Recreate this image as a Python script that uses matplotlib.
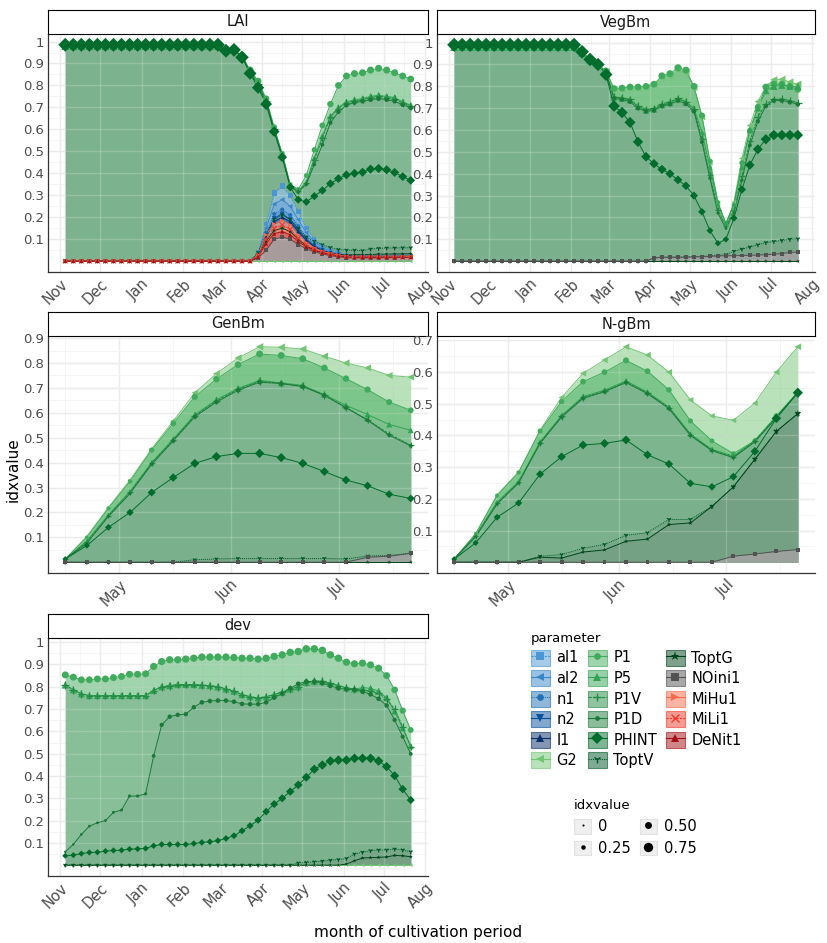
import matplotlib
matplotlib.use("Agg")
import matplotlib.dates as mdates
import matplotlib.pyplot as plt
import numpy as np
import pandas as pd
from matplotlib.colors import to_rgba
from matplotlib.lines import Line2D
from matplotlib.patches import Patch
from matplotlib.ticker import FuncFormatter


# ========= sampling dates (every 6 days) =========
DATES_FULL = pd.date_range("2018-11-05", "2019-07-21", freq="6D")   # 44 dates
DATES_GRAIN = pd.date_range("2019-04-16", "2019-07-21", freq="6D")  # 17 dates

PARAMS = ["al1", "al2", "n1", "n2", "l1", "G2", "P1", "P5", "P1V", "P1D",
          "PHINT", "ToptV", "ToptG", "NOini1", "MiHu1", "MiLi1", "DeNit1"]

# ========= LAI =========
LAI_PHINT = [0.985, 0.985, 0.985, 0.985, 0.985, 0.985, 0.985, 0.985, 0.985, 0.985,
             0.985, 0.985, 0.985, 0.985, 0.985, 0.985, 0.985, 0.985, 0.985, 0.985,
             0.958, 0.962, 0.928, 0.855, 0.790, 0.715, 0.590, 0.473, 0.337, 0.280,
             0.270, 0.296, 0.322, 0.353, 0.376, 0.393, 0.400, 0.405, 0.419, 0.422,
             0.416, 0.404, 0.385, 0.368]
LAI_P1 = [0.98, 0.98, 0.98, 0.98, 0.98, 0.98, 0.98, 0.98, 0.98, 0.98,
          0.98, 0.98, 0.98, 0.98, 0.98, 0.98, 0.98, 0.98, 0.98, 0.98,
          0.962, 0.966, 0.935, 0.870, 0.820, 0.740, 0.610, 0.490, 0.350, 0.327,
          0.390, 0.507, 0.618, 0.715, 0.800, 0.843, 0.854, 0.858, 0.870, 0.878,
          0.870, 0.858, 0.843, 0.829]
LAI_P5 = [0.98, 0.98, 0.98, 0.98, 0.98, 0.98, 0.98, 0.98, 0.98, 0.98,
          0.98, 0.98, 0.98, 0.98, 0.98, 0.98, 0.98, 0.98, 0.98, 0.98,
          0.958, 0.962, 0.931, 0.865, 0.810, 0.735, 0.600, 0.485, 0.345, 0.320,
          0.360, 0.470, 0.570, 0.660, 0.700, 0.725, 0.735, 0.740, 0.750, 0.755,
          0.750, 0.745, 0.725, 0.710]
LAI_P1V = [0.98, 0.98, 0.98, 0.98, 0.98, 0.98, 0.98, 0.98, 0.98, 0.98,
           0.98, 0.98, 0.98, 0.98, 0.98, 0.98, 0.98, 0.98, 0.98, 0.98,
           0.957, 0.961, 0.930, 0.862, 0.805, 0.730, 0.600, 0.482, 0.342, 0.318,
           0.355, 0.460, 0.560, 0.655, 0.695, 0.720, 0.730, 0.735, 0.745, 0.750,
           0.745, 0.740, 0.720, 0.705]
LAI_P1D = [0.98, 0.98, 0.98, 0.98, 0.98, 0.98, 0.98, 0.98, 0.98, 0.98,
           0.98, 0.98, 0.98, 0.98, 0.98, 0.98, 0.98, 0.98, 0.98, 0.98,
           0.956, 0.960, 0.929, 0.860, 0.800, 0.725, 0.595, 0.480, 0.340, 0.315,
           0.350, 0.440, 0.530, 0.630, 0.680, 0.710, 0.722, 0.728, 0.735, 0.740,
           0.735, 0.728, 0.712, 0.698]
LAI_G2 = [0, 0, 0, 0, 0, 0, 0, 0, 0, 0, 0, 0, 0, 0, 0, 0, 0, 0, 0, 0, 0, 0,
          0, 0, 0, 0, 0, 0, 0, 0, 0, 0, 0, 0, 0, 0, 0, 0, 0, 0, 0, 0, 0, 0]
LAI_ToptV = [0, 0, 0, 0, 0, 0, 0, 0, 0, 0, 0, 0, 0, 0, 0, 0, 0, 0, 0, 0, 0, 0, 0, 0,
             0.040, 0.120, 0.190, 0.210, 0.190, 0.150, 0.110, 0.090, 0.075, 0.062,
             0.053, 0.050, 0.050, 0.048, 0.055, 0.058, 0.060, 0.060, 0.061, 0.061]
LAI_ToptG = [0, 0, 0, 0, 0, 0, 0, 0, 0, 0, 0, 0, 0, 0, 0, 0, 0, 0, 0, 0, 0, 0, 0, 0,
             0.030, 0.090, 0.140, 0.150, 0.135, 0.100, 0.070, 0.050, 0.040, 0.035,
             0.030, 0.028, 0.030, 0.030, 0.030, 0.032, 0.032, 0.033, 0.033, 0.034]
LAI_NOini1 = [0, 0, 0, 0, 0, 0, 0, 0, 0, 0, 0, 0, 0, 0, 0, 0, 0, 0, 0, 0, 0, 0, 0, 0,
              0.015, 0.050, 0.100, 0.110, 0.100, 0.076, 0.056, 0.043, 0.033, 0.025,
              0.020, 0.016, 0.015, 0.015, 0.015, 0.015, 0.016, 0.016, 0.017, 0.018]
LAI_MiHu1 = [0, 0, 0, 0, 0, 0, 0, 0, 0, 0, 0, 0, 0, 0, 0, 0, 0, 0, 0, 0, 0, 0, 0, 0,
             0.030, 0.120, 0.170, 0.185, 0.165, 0.120, 0.085, 0.060, 0.045, 0.035,
             0.028, 0.022, 0.020, 0.020, 0.020, 0.020, 0.020, 0.020, 0.020, 0.022]
LAI_MiLi1 = [0, 0, 0, 0, 0, 0, 0, 0, 0, 0, 0, 0, 0, 0, 0, 0, 0, 0, 0, 0, 0, 0, 0, 0,
             0.025, 0.100, 0.150, 0.165, 0.145, 0.105, 0.075, 0.055, 0.040, 0.032,
             0.025, 0.020, 0.018, 0.018, 0.018, 0.018, 0.018, 0.018, 0.018, 0.018]
LAI_DeNit1 = [0, 0, 0, 0, 0, 0, 0, 0, 0, 0, 0, 0, 0, 0, 0, 0, 0, 0, 0, 0, 0, 0, 0, 0,
              0.020, 0.080, 0.125, 0.135, 0.120, 0.090, 0.065, 0.050, 0.038, 0.030,
              0.024, 0.020, 0.018, 0.018, 0.018, 0.018, 0.018, 0.018, 0.018, 0.018]
LAI_al1 = [0, 0, 0, 0, 0, 0, 0, 0, 0, 0, 0, 0, 0, 0, 0, 0, 0, 0, 0, 0, 0, 0, 0, 0,
           0.040, 0.170, 0.310, 0.342, 0.300, 0.225, 0.150, 0.100, 0.070, 0.050,
           0.040, 0.030, 0.025, 0.022, 0.022, 0.022, 0.022, 0.022, 0.022, 0.022]
LAI_al2 = [0, 0, 0, 0, 0, 0, 0, 0, 0, 0, 0, 0, 0, 0, 0, 0, 0, 0, 0, 0, 0, 0, 0, 0,
           0.035, 0.150, 0.260, 0.280, 0.250, 0.190, 0.130, 0.090, 0.062, 0.045,
           0.035, 0.028, 0.022, 0.022, 0.022, 0.022, 0.022, 0.022, 0.022, 0.022]
LAI_n1 = [0, 0, 0, 0, 0, 0, 0, 0, 0, 0, 0, 0, 0, 0, 0, 0, 0, 0, 0, 0, 0, 0, 0, 0,
          0.030, 0.130, 0.215, 0.235, 0.210, 0.160, 0.110, 0.078, 0.055, 0.040,
          0.032, 0.026, 0.022, 0.022, 0.022, 0.022, 0.022, 0.022, 0.022, 0.022]
LAI_n2 = [0, 0, 0, 0, 0, 0, 0, 0, 0, 0, 0, 0, 0, 0, 0, 0, 0, 0, 0, 0, 0, 0, 0, 0,
          0.030, 0.120, 0.195, 0.215, 0.190, 0.145, 0.100, 0.070, 0.050, 0.038,
          0.030, 0.025, 0.022, 0.022, 0.022, 0.022, 0.022, 0.022, 0.022, 0.022]
LAI_l1 = [0, 0, 0, 0, 0, 0, 0, 0, 0, 0, 0, 0, 0, 0, 0, 0, 0, 0, 0, 0, 0, 0, 0, 0,
          0.028, 0.110, 0.180, 0.200, 0.180, 0.135, 0.095, 0.066, 0.048, 0.036,
          0.029, 0.024, 0.022, 0.022, 0.022, 0.022, 0.022, 0.022, 0.022, 0.022]

# ========= VegBm =========
VEG_PHINT = [0.99, 0.99, 0.99, 0.99, 0.99, 0.99, 0.99, 0.99, 0.99, 0.99, 0.99, 0.99,
             0.99, 0.99, 0.99, 0.99,
             0.958, 0.923, 0.900, 0.854, 0.710, 0.680, 0.635, 0.546, 0.478, 0.446,
             0.420, 0.400, 0.372, 0.345, 0.300, 0.226, 0.140, 0.082, 0.100, 0.197,
             0.328, 0.440, 0.512, 0.558, 0.577, 0.577, 0.577, 0.577]
VEG_P1 = [0.985, 0.985, 0.985, 0.985, 0.985, 0.985, 0.985, 0.985, 0.985, 0.985,
          0.985, 0.985, 0.985, 0.985, 0.985, 0.985,
          0.955, 0.920, 0.900, 0.870, 0.790, 0.792, 0.797, 0.797, 0.800, 0.810,
          0.848, 0.858, 0.885, 0.874, 0.800, 0.666, 0.458, 0.270, 0.170, 0.258,
          0.450, 0.597, 0.705, 0.797, 0.810, 0.810, 0.800, 0.786]
VEG_G2 = [0.98, 0.98, 0.98, 0.98, 0.98, 0.98, 0.98, 0.98, 0.98, 0.98, 0.98, 0.98,
          0.98, 0.98, 0.98, 0.98,
          0.950, 0.915, 0.895, 0.865, 0.785, 0.785, 0.790, 0.790, 0.795, 0.805,
          0.840, 0.850, 0.875, 0.865, 0.795, 0.660, 0.450, 0.265, 0.160, 0.270,
          0.470, 0.620, 0.730, 0.800, 0.830, 0.832, 0.820, 0.810]
VEG_P5 = [0.98, 0.98, 0.98, 0.98, 0.98, 0.98, 0.98, 0.98, 0.98, 0.98, 0.98, 0.98,
          0.98, 0.98, 0.98, 0.98,
          0.953, 0.918, 0.898, 0.863, 0.750, 0.745, 0.738, 0.708, 0.690, 0.695,
          0.715, 0.725, 0.742, 0.728, 0.700, 0.590, 0.430, 0.260, 0.175, 0.260,
          0.430, 0.600, 0.700, 0.780, 0.800, 0.805, 0.800, 0.800]
VEG_P1V = [0.98, 0.98, 0.98, 0.98, 0.98, 0.98, 0.98, 0.98, 0.98, 0.98, 0.98, 0.98,
           0.98, 0.98, 0.98, 0.98,
           0.952, 0.918, 0.898, 0.862, 0.752, 0.748, 0.740, 0.710, 0.695, 0.700,
           0.720, 0.730, 0.745, 0.730, 0.695, 0.560, 0.395, 0.235, 0.160, 0.235,
           0.390, 0.550, 0.660, 0.720, 0.740, 0.742, 0.735, 0.725]
VEG_P1D = [0.98, 0.98, 0.98, 0.98, 0.98, 0.98, 0.98, 0.98, 0.98, 0.98, 0.98, 0.98,
           0.98, 0.98, 0.98, 0.98,
           0.950, 0.915, 0.895, 0.860, 0.745, 0.740, 0.730, 0.700, 0.685, 0.690,
           0.710, 0.718, 0.735, 0.720, 0.685, 0.545, 0.380, 0.220, 0.150, 0.220,
           0.370, 0.530, 0.640, 0.710, 0.735, 0.735, 0.728, 0.718]
VEG_ToptV = [0, 0, 0, 0, 0, 0, 0, 0, 0, 0, 0, 0, 0, 0, 0, 0, 0, 0, 0, 0, 0, 0, 0, 0, 0,
             0.015, 0.018, 0.018, 0.018, 0.020, 0.020, 0.022, 0.024, 0.026, 0.030,
             0.045, 0.055, 0.065, 0.075, 0.085, 0.090, 0.095, 0.100, 0.102]
VEG_ToptG = [0, 0, 0, 0, 0, 0, 0, 0, 0, 0, 0, 0, 0, 0, 0, 0, 0, 0, 0, 0, 0, 0,
             0, 0, 0, 0, 0, 0, 0, 0, 0, 0, 0, 0, 0, 0, 0, 0, 0, 0, 0, 0, 0, 0]
VEG_NOini1 = [0, 0, 0, 0, 0, 0, 0, 0, 0, 0, 0, 0, 0, 0, 0, 0, 0, 0, 0, 0, 0, 0, 0, 0, 0,
              0.015, 0.018, 0.018, 0.018, 0.018, 0.020, 0.020, 0.022, 0.024, 0.025,
              0.025, 0.026, 0.027, 0.028, 0.030, 0.032, 0.035, 0.040, 0.042]

# ========= GenBm =========
GEN_G2 = [0.013, 0.104, 0.220, 0.330, 0.455, 0.567, 0.680, 0.757, 0.820, 0.865,
          0.863, 0.856, 0.827, 0.800, 0.780, 0.750, 0.743]
GEN_P1 = [0.013, 0.100, 0.216, 0.324, 0.450, 0.557, 0.664, 0.735, 0.793, 0.836,
          0.830, 0.817, 0.780, 0.737, 0.693, 0.643, 0.610]
GEN_P5 = [0.013, 0.085, 0.190, 0.285, 0.400, 0.495, 0.592, 0.652, 0.698, 0.730,
          0.720, 0.710, 0.673, 0.630, 0.593, 0.553, 0.530]
GEN_P1V = [0.013, 0.082, 0.187, 0.280, 0.397, 0.490, 0.588, 0.648, 0.694, 0.727,
           0.718, 0.707, 0.671, 0.622, 0.572, 0.515, 0.470]
GEN_P1D = [0.013, 0.076, 0.184, 0.276, 0.393, 0.487, 0.584, 0.643, 0.690, 0.723,
           0.717, 0.705, 0.670, 0.620, 0.570, 0.510, 0.467]
GEN_PHINT = [0.013, 0.067, 0.140, 0.200, 0.280, 0.340, 0.397, 0.424, 0.437, 0.437,
             0.420, 0.397, 0.364, 0.330, 0.307, 0.273, 0.256]
GEN_ToptV = [0, 0, 0, 0, 0, 0, 0.010, 0.013, 0.015, 0.015, 0.015, 0.015, 0.015,
             0.013, 0.025, 0.027, 0.036]
GEN_ToptG = [0, 0, 0, 0, 0, 0, 0, 0, 0, 0, 0, 0, 0, 0, 0, 0, 0]
GEN_NOini1 = [0, 0, 0, 0, 0, 0, 0, 0, 0, 0, 0, 0, 0, 0, 0.020, 0.024, 0.036]

# ========= N-gBm =========
NGB_G2 = [0.010, 0.090, 0.213, 0.285, 0.417, 0.520, 0.596, 0.638, 0.680, 0.654,
          0.600, 0.512, 0.462, 0.448, 0.502, 0.600, 0.680]
NGB_P1 = [0.010, 0.090, 0.210, 0.283, 0.414, 0.507, 0.570, 0.600, 0.637, 0.603,
          0.544, 0.446, 0.383, 0.343, 0.383, 0.462, 0.535]
NGB_P5 = [0.010, 0.085, 0.190, 0.255, 0.380, 0.463, 0.523, 0.543, 0.572, 0.537,
          0.490, 0.405, 0.356, 0.335, 0.385, 0.460, 0.537]
NGB_P1V = [0.010, 0.082, 0.186, 0.252, 0.377, 0.460, 0.520, 0.540, 0.569, 0.534,
           0.487, 0.402, 0.354, 0.332, 0.382, 0.458, 0.536]
NGB_P1D = [0.010, 0.080, 0.184, 0.250, 0.375, 0.458, 0.517, 0.538, 0.567, 0.532,
           0.485, 0.400, 0.352, 0.330, 0.380, 0.456, 0.535]
NGB_PHINT = [0.010, 0.061, 0.142, 0.187, 0.278, 0.333, 0.370, 0.375, 0.386, 0.339,
             0.310, 0.249, 0.238, 0.270, 0.350, 0.454, 0.535]
NGB_ToptV = [0, 0, 0, 0, 0.019, 0.024, 0.044, 0.056, 0.085, 0.093, 0.135, 0.135,
             0.176, 0.238, 0.325, 0.413, 0.469]
NGB_ToptG = [0, 0, 0, 0, 0.016, 0.013, 0.032, 0.039, 0.066, 0.073, 0.119, 0.124,
             0.176, 0.238, 0.325, 0.413, 0.469]
NGB_NOini1 = [0, 0, 0, 0, 0, 0, 0, 0, 0, 0, 0, 0, 0, 0.019, 0.026, 0.034, 0.040]

# ========= dev =========
DEV_P1 = [0.853, 0.843, 0.831, 0.831, 0.835, 0.835, 0.841, 0.846, 0.856, 0.856,
          0.858, 0.891, 0.913, 0.921, 0.921, 0.924, 0.928, 0.933, 0.933, 0.933,
          0.933, 0.931, 0.928, 0.928, 0.924, 0.928, 0.936, 0.943, 0.954, 0.958,
          0.970, 0.970, 0.963, 0.943, 0.928, 0.910, 0.903, 0.906, 0.898, 0.883,
          0.850, 0.786, 0.693, 0.606]
DEV_P1V = [0.808, 0.786, 0.768, 0.760, 0.760, 0.760, 0.760, 0.760, 0.760, 0.760,
           0.760, 0.783, 0.800, 0.805, 0.810, 0.810, 0.810, 0.807, 0.805, 0.800,
           0.790, 0.780, 0.765, 0.755, 0.750, 0.755, 0.765, 0.775, 0.790, 0.800,
           0.820, 0.825, 0.825, 0.815, 0.805, 0.795, 0.790, 0.785, 0.780, 0.770,
           0.745, 0.700, 0.620, 0.530]
DEV_P5 = [0.808, 0.786, 0.768, 0.760, 0.760, 0.760, 0.760, 0.760, 0.760, 0.760,
          0.760, 0.783, 0.800, 0.805, 0.810, 0.810, 0.810, 0.807, 0.805, 0.800,
          0.790, 0.780, 0.765, 0.755, 0.750, 0.755, 0.765, 0.775, 0.790, 0.800,
          0.820, 0.825, 0.825, 0.815, 0.805, 0.795, 0.790, 0.796, 0.793, 0.780,
          0.750, 0.690, 0.614, 0.534]
DEV_P1D = [0.060, 0.093, 0.138, 0.175, 0.190, 0.200, 0.237, 0.247, 0.310, 0.310,
           0.320, 0.490, 0.629, 0.666, 0.674, 0.677, 0.708, 0.730, 0.736, 0.738,
           0.738, 0.733, 0.723, 0.722, 0.722, 0.730, 0.751, 0.770, 0.793, 0.813,
           0.823, 0.823, 0.816, 0.804, 0.793, 0.789, 0.786, 0.778, 0.766, 0.746,
           0.716, 0.651, 0.576, 0.499]
DEV_PHINT = [0.042, 0.045, 0.052, 0.057, 0.058, 0.063, 0.066, 0.067, 0.072, 0.073,
             0.075, 0.087, 0.093, 0.093, 0.093, 0.093, 0.097, 0.102, 0.105, 0.110,
             0.120, 0.132, 0.154, 0.177, 0.202, 0.240, 0.274, 0.300, 0.330, 0.360,
             0.394, 0.430, 0.449, 0.467, 0.471, 0.471, 0.479, 0.479, 0.479, 0.467,
             0.442, 0.401, 0.341, 0.292]
DEV_G2 = [0, 0, 0, 0, 0, 0, 0, 0, 0, 0, 0, 0, 0, 0, 0, 0, 0, 0, 0, 0, 0, 0,
          0, 0, 0, 0, 0, 0, 0, 0, 0, 0, 0, 0, 0, 0, 0, 0, 0, 0, 0, 0, 0, 0]
DEV_ToptV = [0, 0, 0, 0, 0, 0, 0, 0, 0, 0, 0, 0, 0, 0, 0, 0, 0, 0, 0, 0, 0, 0, 0, 0,
             0, 0, 0, 0, 0, 0.010, 0.012, 0.015, 0.018, 0.022, 0.025, 0.030, 0.050,
             0.058, 0.065, 0.068, 0.068, 0.072, 0.068, 0.060]
DEV_ToptG = [0, 0, 0, 0, 0, 0, 0, 0, 0, 0, 0, 0, 0, 0, 0, 0, 0, 0, 0, 0, 0, 0, 0, 0,
             0, 0, 0, 0, 0, 0, 0, 0, 0, 0, 0, 0.005, 0.020, 0.032, 0.034, 0.035,
             0.037, 0.044, 0.042, 0.038]

# ========= styles =========
LINE = {
    "al1": "#4b97d3", "al2": "#3a87c8", "n1": "#2171b5", "n2": "#08519c", "l1": "#08306b",
    "G2": "#74c476", "P1": "#41ab5d", "P5": "#31a354", "P1V": "#238b45", "P1D": "#1b7a3a",
    "PHINT": "#006d2c", "ToptV": "#00582a", "ToptG": "#00441b", "NOini1": "#525252",
    "MiHu1": "#fb6a4a", "MiLi1": "#ef3b2c", "DeNit1": "#a50f15",
}
FILL = {
    "al1": "#94bfe8", "al2": "#74a9dc", "n1": "#5b95cd", "n2": "#4a84bf", "l1": "#3f72ad",
    "G2": "#74c476", "P1": "#41ab5d", "P5": "#84bc95", "P1V": "#80b893", "P1D": "#7bb18d",
    "PHINT": "#79ae8b", "ToptV": "#76a085", "ToptG": "#739a80", "NOini1": "#a2a2a2",
    "MiHu1": "#fca58e", "MiLi1": "#f7826f", "DeNit1": "#d85c5a",
}
FILL_ALPHA = {p: 0.5 for p in PARAMS}
for p in ["al1", "al2", "n1", "n2", "l1", "MiHu1", "MiLi1", "DeNit1"]:
    FILL_ALPHA[p] = 0.7
FILL_ALPHA["NOini1"] = 0.9

MARKER = {
    "al1": "s", "al2": "<", "n1": "o", "n2": "v", "l1": "^", "G2": "<", "P1": "o",
    "P5": "^", "P1V": "+", "P1D": "o", "PHINT": "D", "ToptV": "1", "ToptG": "*",
    "NOini1": "s", "MiHu1": ">", "MiLi1": "x", "DeNit1": "^",
}
# marker size (points) = a + b * idxvalue
MSIZE = {
    "al1": (2.8, 3.0), "al2": (2.6, 3.2), "n1": (2.2, 3.3), "n2": (2.6, 3.2),
    "l1": (2.6, 3.2), "G2": (2.6, 3.2), "P1": (2.2, 3.3), "P5": (2.6, 3.2),
    "P1V": (3.2, 3.0), "P1D": (1.6, 2.3), "PHINT": (2.9, 4.3), "ToptV": (3.2, 3.0),
    "ToptG": (3.0, 4.5), "NOini1": (2.8, 3.0), "MiHu1": (2.6, 3.2), "MiLi1": (3.2, 3.0),
    "DeNit1": (2.6, 3.2),
}
LSTYLE = {p: "-" for p in PARAMS}
LSTYLE.update({"al1": (0, (2, 1)), "n1": (0, (1, 1)), "P1V": (0, (3, 1)),
               "ToptV": (0, (1, 1)), "MiLi1": (0, (2, 1))})
LINE_MARKERS = ("+", "x", "1")

AREA_ORDER = ["G2", "P1", "P5", "P1V", "P1D", "PHINT", "ToptV", "ToptG",
              "al1", "al2", "n1", "n2", "l1", "MiHu1", "MiLi1", "DeNit1", "NOini1"]

PANELS = [
    ("LAI", DATES_FULL, (48, 34, 428, 272), {
        "al1": LAI_al1, "al2": LAI_al2, "n1": LAI_n1, "n2": LAI_n2, "l1": LAI_l1,
        "G2": LAI_G2, "P1": LAI_P1, "P5": LAI_P5, "P1V": LAI_P1V, "P1D": LAI_P1D,
        "PHINT": LAI_PHINT, "ToptV": LAI_ToptV, "ToptG": LAI_ToptG, "NOini1": LAI_NOini1,
        "MiHu1": LAI_MiHu1, "MiLi1": LAI_MiLi1, "DeNit1": LAI_DeNit1}),
    ("VegBm", DATES_FULL, (437, 34, 815, 272), {
        "G2": VEG_G2, "P1": VEG_P1, "P5": VEG_P5, "P1V": VEG_P1V, "P1D": VEG_P1D,
        "PHINT": VEG_PHINT, "ToptV": VEG_ToptV, "ToptG": VEG_ToptG, "NOini1": VEG_NOini1}),
    ("GenBm", DATES_GRAIN, (48, 336, 428, 573), {
        "G2": GEN_G2, "P1": GEN_P1, "P5": GEN_P5, "P1V": GEN_P1V, "P1D": GEN_P1D,
        "PHINT": GEN_PHINT, "ToptV": GEN_ToptV, "ToptG": GEN_ToptG, "NOini1": GEN_NOini1}),
    ("N-gBm", DATES_GRAIN, (437, 336, 815, 573), {
        "G2": NGB_G2, "P1": NGB_P1, "P5": NGB_P5, "P1V": NGB_P1V, "P1D": NGB_P1D,
        "PHINT": NGB_PHINT, "ToptV": NGB_ToptV, "ToptG": NGB_ToptG, "NOini1": NGB_NOini1}),
    ("dev", DATES_FULL, (48, 638, 428, 876), {
        "G2": DEV_G2, "P1": DEV_P1, "P5": DEV_P5, "P1V": DEV_P1V, "P1D": DEV_P1D,
        "PHINT": DEV_PHINT, "ToptV": DEV_ToptV, "ToptG": DEV_ToptG}),
]

FIG_W, FIG_H = 828, 943


def px_rect(left, top, right, bottom):
    return [left / FIG_W, 1 - bottom / FIG_H, (right - left) / FIG_W, (bottom - top) / FIG_H]


def draw_panel(ax, dates, series):
    x = mdates.date2num(dates)
    for p in AREA_ORDER:
        if p in series:
            ax.fill_between(x, 0, series[p], color=FILL[p], alpha=FILL_ALPHA[p],
                            lw=0, zorder=1)
    for p in PARAMS:
        if p in series:
            ax.plot(x, series[p], color=LINE[p], lw=0.7, ls=LSTYLE[p], zorder=3)
    for p in PARAMS:
        if p not in series:
            continue
        v = np.asarray(series[p], dtype=float)
        a, b = MSIZE[p]
        s = (a + b * v) ** 2
        if MARKER[p] in LINE_MARKERS:
            ax.scatter(x, v, s=s, marker=MARKER[p], color=LINE[p], linewidths=0.9, zorder=4)
        else:
            ax.scatter(x, v, s=s, marker=MARKER[p], color=LINE[p], edgecolors="none", zorder=4)

    ymax = max(max(v) for v in series.values())
    ax.set_ylim(-0.05 * ymax, 1.05 * ymax)
    span = x[-1] - x[0]
    ax.set_xlim(x[0] - 0.05 * span, x[-1] + 0.05 * span)

    yt = [t for t in np.round(np.arange(1, 11) * 0.1, 1) if t <= 1.05 * ymax]
    ym = [t for t in np.round(np.arange(0, 11) * 0.1 + 0.05, 2) if t <= 1.05 * ymax]
    ax.set_yticks(yt)
    ax.set_yticks(ym, minor=True)
    ax.yaxis.set_major_formatter(FuncFormatter(lambda v, _: f"{v:g}"))
    ax.xaxis.set_major_locator(mdates.MonthLocator())
    ax.xaxis.set_major_formatter(mdates.DateFormatter("%b"))
    ax.xaxis.set_minor_locator(mdates.MonthLocator(bymonthday=16))

    ax.set_axisbelow(True)
    ax.grid(which="major", color="#e8e8e8", lw=1.0)
    ax.grid(which="minor", color="#f1f1f1", lw=0.5)
    # faint grid visible through the filled areas
    for yv in yt:
        ax.axhline(yv, color="white", lw=1.0, alpha=0.2, zorder=1.5)
    for xv in ax.get_xticks():
        ax.axvline(xv, color="white", lw=1.0, alpha=0.2, zorder=1.5)

    ax.tick_params(which="both", length=0)
    ax.tick_params(axis="y", labelsize=9.5, labelcolor="#4d4d4d", pad=3)
    ax.tick_params(axis="x", labelsize=10.5, labelcolor="#4d4d4d", pad=3)
    for lab in ax.get_xticklabels():
        lab.set_rotation(45)
        lab.set_ha("right")
        lab.set_va("top")
        lab.set_rotation_mode("anchor")
    for side in ("top", "right"):
        ax.spines[side].set_visible(False)
    for side in ("left", "bottom"):
        ax.spines[side].set_color("#333333")
        ax.spines[side].set_linewidth(0.9)


fig = plt.figure(figsize=(FIG_W / 100, FIG_H / 100), dpi=100)

for title, dates, (l, t, r, b), series in PANELS:
    for p, vals in series.items():
        assert len(vals) == len(dates), (title, p, len(vals))
    ax = fig.add_axes(px_rect(l, t, r, b))
    draw_panel(ax, dates, series)
    strip = fig.add_axes(px_rect(l, t - 24, r, t))
    strip.set_xticks([])
    strip.set_yticks([])
    strip.set_facecolor("white")
    for sp in strip.spines.values():
        sp.set_color("black")
        sp.set_linewidth(0.8)
    strip.text(0.5, 0.5, title, ha="center", va="center", fontsize=10.5, color="#1a1a1a",
               transform=strip.transAxes)

# ---- parameter legend ----
handles = []
for p in PARAMS:
    box = Patch(facecolor=to_rgba(LINE[p], 0.5), edgecolor=to_rgba(LINE[p], 0.6), lw=0.8)
    a, b = MSIZE[p]
    is_line_marker = MARKER[p] in LINE_MARKERS
    mk = Line2D([], [], color=LINE[p], lw=0.8, ls=LSTYLE[p], marker=MARKER[p],
                markersize=a + b * 0.8, markeredgewidth=1.0 if is_line_marker else 0)
    handles.append((box, mk))
fig.legend(handles=handles, labels=PARAMS, loc="upper left",
           bbox_to_anchor=(531 / FIG_W, 1 - 632 / FIG_H), ncol=3, frameon=False,
           fontsize=10.5, title="parameter", title_fontsize=9.5, alignment="left",
           handlelength=1.3, handleheight=1.3, handletextpad=0.45, columnspacing=0.6,
           labelspacing=0.32, borderpad=0, borderaxespad=0)

# ---- size legend ----
SIZE_LEVELS = [0, 0.25, 0.5, 0.75]
SIZE_LABELS = ["0", "0.25", "0.50", "0.75"]
size_handles = []
for lv in SIZE_LEVELS:
    bg = Patch(facecolor="#efefef", edgecolor="#e2e2e2", lw=0.8)
    dot = Line2D([], [], ls="none", marker="o", color="black",
                 markersize=1.5 + 7.0 * lv, markeredgewidth=0)
    size_handles.append((bg, dot))
fig.legend(handles=size_handles, labels=SIZE_LABELS, loc="upper left",
           bbox_to_anchor=(574 / FIG_W, 1 - 799 / FIG_H), ncol=2, frameon=False,
           fontsize=10.5, title="idxvalue", title_fontsize=9.5, alignment="left",
           handlelength=1.2, handleheight=1.2, handletextpad=0.45, columnspacing=0.6,
           labelspacing=0.45, borderpad=0, borderaxespad=0)

fig.text(13 / FIG_W, 1 - 470 / FIG_H, "idxvalue", rotation=90, ha="center", va="center",
         fontsize=11)
fig.text(418 / FIG_W, 1 - 932 / FIG_H, "month of cultivation period", ha="center",
         va="center", fontsize=11)

fig.savefig("out.png", dpi=100)
